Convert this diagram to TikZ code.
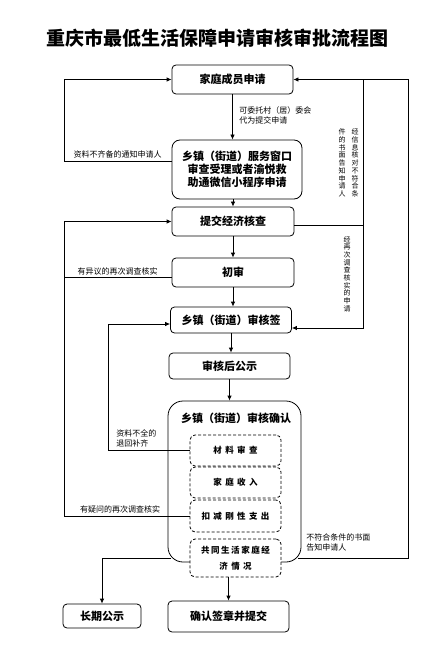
\documentclass[tikz,border=0pt]{standalone}
\usepackage{fontspec}
\setmainfont{Noto Sans CJK SC}
\newfontfamily\spaced[LetterSpace=40]{Noto Sans CJK SC}
\usetikzlibrary{arrows.meta, positioning}

\begin{document}
\begin{tikzpicture}[
  x=1pt, y=-1pt,
  line width=0.8pt,
  box/.style={draw, rounded corners=4pt, fill=white, minimum width=121pt, minimum height=29pt, inner sep=0pt, align=center, font=\bfseries\fontsize{11}{13}\selectfont},
  dbox/.style={draw, dash pattern=on 3pt off 2pt, rounded corners=5pt, fill=white, minimum width=91pt, minimum height=31pt, inner sep=0pt, align=center, font=\spaced\bfseries\fontsize{8.5}{16}\selectfont},
  note/.style={inner sep=0pt, align=left, font=\fontsize{8}{10}\selectfont},
  vnote/.style={inner sep=0pt, align=center, font=\fontsize{7}{7.7}\selectfont},
  arr/.style={-{Latex[length=5pt, width=4.5pt]}}
]
  \useasboundingbox (0,0) rectangle (433,660);

  % Title
  \node[font=\bfseries\fontsize{19}{22}\selectfont] (title) at (217,38) {重庆市最低生活保障申请审核审批流程图};

  % Main column
  \node[box] (apply) at (232.5,79.5) {家庭成员申请};
  \node[box, minimum width=130pt, minimum height=59pt, rounded corners=8pt] (window) at (237,169.5) {乡镇（街道）服务窗口\\审查受理或者渝悦救\\助通微信小程序申请};
  \node[box, minimum width=122pt] (check) at (233,221.5) {提交经济核查};
  \node[box, minimum width=122pt] (first) at (233,272.5) {初审};
  \node[box, minimum height=26pt] (sign) at (231,320) {乡镇（街道）审核签};
  \node[box, minimum height=26pt] (public) at (229.5,366) {审核后公示};
  \node[box, minimum width=133pt, minimum height=161pt, rounded corners=15pt] (confirm) at (234.5,481.5) {};
  \node[font=\bfseries\fontsize{11}{13}\selectfont] (confirmtitle) at (236,418) {乡镇（街道）审核确认};
  \node[dbox] (material) at (235.5,450.5) {材料审查};
  \node[dbox] (income) at (235.5,482.5) {家庭收入};
  \node[dbox, minimum height=32pt] (expense) at (235.5,516) {扣减刚性支出};
  \node[dbox, minimum height=38pt] (living) at (235.5,558) {\addfontfeature{LetterSpace=18}共同生活家庭经\\济情况};
  \node[box, minimum height=31pt] (submit) at (228.5,616.5) {确认签章并提交};
  \node[box, minimum width=78pt, minimum height=24pt] (longterm) at (102,616) {长期公示};

  % Loop lines
  \coordinate (lx) at (64,0);
  \coordinate (ilx) at (108,0);
  \coordinate (irx) at (363,0);
  \coordinate (rx) at (408,0);

  % Main flow
  \draw[arr] (apply.south) -- (apply.south |- window.north);
  \draw[arr] (check.north |- window.south) -- (check.north);
  \draw[arr] (check) -- (first);
  \draw[arr] (first.south) -- (first.south |- sign.north);
  \draw[arr] (sign.south) -- (sign.south |- public.north);
  \draw[arr] (public.south) -- (public.south |- confirm.north);
  \draw[arr] (submit.north |- living.south) -- (submit.north);

  % Returns
  \draw[arr] ([yshift=8.5pt]window.west) -- ([yshift=8.5pt]window.west -| lx) |- (apply.west);
  \draw ([yshift=-5pt]first.west) -- ([yshift=-5pt]first.west -| lx);
  \draw[arr] (expense.west) -- (expense.west -| lx) |- (check.west);
  \draw[arr] (material.west) -- (material.west -| ilx) |- ([yshift=-4pt]sign.west);
  \draw[arr] ([xshift=-3pt]confirm.east |- living.east) -- (living.east -| rx) |- (apply.east);
  \draw ([yshift=-3.5pt]check.east) -- ([yshift=-3.5pt]check.east -| irx);
  \draw[arr] (apply.east -| irx) |- ([yshift=-8pt]sign.east);
  \draw[arr] ([xshift=3pt]confirm.west |- living.west) -| (longterm.north);

  % Labels
  \node[note] (n1) at (117.5,154) {资料不齐备的通知申请人};
  \node[note, anchor=west] (n2) at (239,115) {可委托村（居）委会\\代为提交申请};
  \node[note] (n3) at (117.5,271) {有异议的再次调查核实};
  \node[note, anchor=west] (n4) at (116,438) {资料不全的\\退回补齐};
  \node[note] (n5) at (120,509) {有疑问的再次调查核实};
  \node[note, anchor=west] (n6) at (306,542) {不符合条件的书面\\告知申请人};
  \node[vnote] (v1) at (355,163) {经\\信\\息\\核\\对\\不\\符\\合\\条};
  \node[vnote] (v2) at (342,163) {件\\的\\书\\面\\告\\知\\申\\请\\人};
  \node[vnote] (v3) at (347,274) {经\\再\\次\\调\\查\\核\\实\\的\\申\\请};
\end{tikzpicture}
\end{document}
